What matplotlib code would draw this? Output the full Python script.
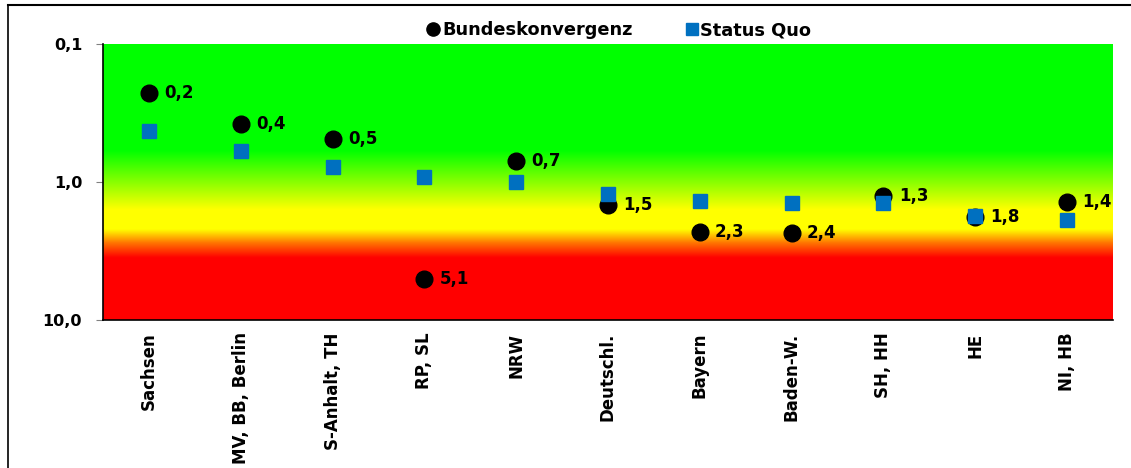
import numpy as np
import matplotlib
matplotlib.use("Agg")
import matplotlib.pyplot as plt
from matplotlib.colors import LinearSegmentedColormap
from matplotlib.lines import Line2D

categories = ["Sachsen", "MV, BB, Berlin", "S-Anhalt, TH", "RP, SL", "NRW",
              "Deutschl.", "Bayern", "Baden-W.", "SH, HH", "HE", "NI, HB"]
bundeskonvergenz = [0.226, 0.38, 0.49, 5.05, 0.70, 1.47, 2.3, 2.35, 1.26, 1.79, 1.40]
bk_labels = ["0,2", "0,4", "0,5", "5,1", "0,7", "1,5", "2,3", "2,4", "1,3", "1,8", "1,4"]
status_quo = [0.43, 0.60, 0.78, 0.92, 1.0, 1.22, 1.37, 1.42, 1.43, 1.77, 1.88]
yticks = [0.1, 1.0, 10.0]
ytick_labels = ["0,1", "1,0", "10,0"]

plt.rcParams['font.family'] = ['DejaVu Sans']

fig = plt.figure(figsize=(11.31, 4.68), dpi=100)
W, H = 1131, 468
ax = fig.add_axes([103 / W, 1 - 320 / H, (1113 - 103) / W, (320 - 44) / H])

# background gradient (top -> bottom in axes fraction from top)
stops = [(0.0, (0, 1, 0)), (0.385, (0, 1, 0)), (0.60, (1, 1, 0)),
         (0.672, (1, 1, 0)), (0.722, (1, 0.45, 0)), (0.775, (1, 0, 0)), (1.0, (1, 0, 0))]
cmap = LinearSegmentedColormap.from_list("bg", stops)
grad = np.linspace(0, 1, 512).reshape(-1, 1)
ax.imshow(grad, aspect='auto', cmap=cmap, extent=(0, 1, 0, 1),
          transform=ax.transAxes, origin='upper', zorder=0, interpolation='bilinear')

x = np.arange(len(categories))
ax.set_yscale('log')
ax.set_ylim(10, 0.1)
ax.set_xlim(-0.5, len(categories) - 0.5)

ax.plot(x, status_quo, linestyle='none', marker='s', markersize=9.5,
        color='#0070C0', zorder=3)
ax.plot(x, bundeskonvergenz, linestyle='none', marker='o', markersize=12,
        color='black', zorder=2)
for xi, v, lab in zip(x, bundeskonvergenz, bk_labels):
    ax.annotate(lab, (xi, v), xytext=(11, 0), textcoords='offset points',
                va='center', ha='left', fontsize=12, fontweight='bold', zorder=4)

ax.set_yticks(yticks)
ax.set_yticklabels(ytick_labels, fontsize=11.5, fontweight='bold')
ax.yaxis.set_minor_locator(matplotlib.ticker.NullLocator())
ax.tick_params(axis='y', length=5, width=0.8, color='gray', pad=10)
ax.set_xticks(x)
ax.set_xticklabels(categories, rotation=90, fontsize=12, fontweight='bold',
                   va='top', ha='center')
ax.tick_params(axis='x', length=0, pad=9)

for s in ['top', 'right']:
    ax.spines[s].set_visible(False)
ax.spines['left'].set_linewidth(1.2)
ax.spines['bottom'].set_linewidth(1.2)

# legend
h1 = Line2D([], [], linestyle='none', marker='o', color='black', markersize=9.5)
h2 = Line2D([], [], linestyle='none', marker='s', color='#0070C0', markersize=8.5)
leg = fig.legend([h1, h2], ["Bundeskonvergenz", "Status Quo"], loc='center',
                 bbox_to_anchor=(618 / W, 1 - 30 / H), ncol=2, frameon=False,
                 prop={'weight': 'bold', 'size': 12.8}, handletextpad=0.0,
                 columnspacing=2.8, handlelength=1.0)

# outer frame
fig.add_artist(Line2D([8 / W, 1], [1 - 5 / H, 1 - 5 / H], color='black', lw=1.5))
fig.add_artist(Line2D([8 / W, 8 / W], [0, 1 - 5 / H], color='black', lw=1.2))

fig.savefig("out.png", dpi=100)
